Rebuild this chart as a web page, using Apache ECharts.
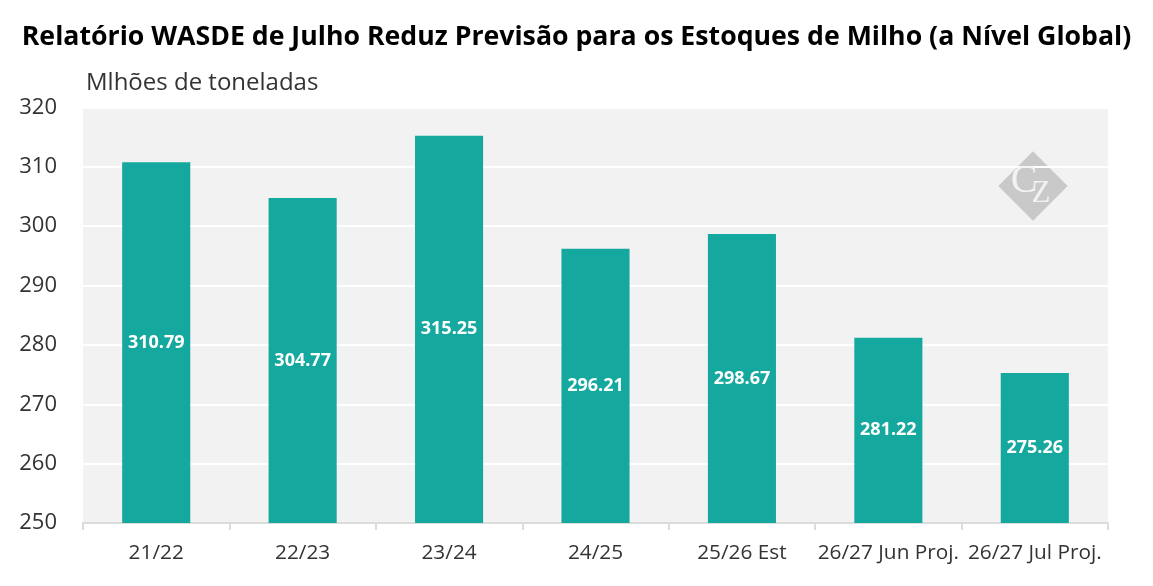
<!DOCTYPE html>
<html lang="pt">
<head>
    <meta charset="UTF-8">
    <title>WASDE Milho</title>
    <script src="https://cdnjs.cloudflare.com/ajax/libs/echarts/6.0.0/echarts.min.js"></script>
    <style>
        html, body { margin: 0; padding: 0; background: #fff; }
        #main { width: 1153px; height: 586px; }
    </style>
</head>
<body>
    <div id="main"></div>
    <script>
        // dados
        const categories = ["21/22", "22/23", "23/24", "24/25", "25/26 Est", "26/27 Jun Proj.", "26/27 Jul Proj."];
        const stocks = [310.79, 304.77, 315.25, 296.21, 298.67, 281.22, 275.26];
        const yTicks = [250, 260, 270, 280, 290, 300, 310, 320];

        const chart = echarts.init(document.getElementById('main'));
        const font = "'Open Sans', 'Noto Sans', sans-serif";

        const option = {
            animation: false,
            textStyle: { fontFamily: font },
            title: {
                text: "Relatório WASDE de Julho Reduz Previsão para os Estoques de Milho (a Nível Global)",
                left: 'center',
                top: 19,
                textStyle: { fontSize: 26.7, fontWeight: 'bold', color: '#000', fontFamily: font }
            },
            grid: { left: 83, right: 45, top: 107.5, bottom: 63, containLabel: false,
                    show: true, backgroundColor: '#f2f2f2', borderWidth: 0 },
            graphic: [
                {
                    type: 'text', left: 86, top: 71,
                    style: { text: "Mlhões de toneladas", fontSize: 24, fill: '#333', fontFamily: font }
                },
                {
                    type: 'rect', x: 1033, y: 186, rotation: Math.PI / 4, z: 0,
                    shape: { x: -24.5, y: -24.5, width: 49, height: 49 },
                    style: { fill: '#c9c9c9' }
                },
                {
                    type: 'text', x: 1024, y: 181, z: 1,
                    style: { text: 'C', fontSize: 40, fill: '#f2f2f2', fontFamily: 'Liberation Serif, serif',
                             align: 'center', verticalAlign: 'middle' }
                },
                {
                    type: 'text', x: 1041, y: 194, z: 1,
                    style: { text: 'Z', fontSize: 31, fill: '#f2f2f2', fontFamily: 'Liberation Serif, serif',
                             align: 'center', verticalAlign: 'middle' }
                }
            ],
            xAxis: {
                type: 'category',
                data: categories,
                axisLine: { lineStyle: { color: '#dcdcdc', width: 2 } },
                axisTick: { show: true, length: 7, lineStyle: { color: '#dcdcdc', width: 2 } },
                axisLabel: { interval: 0, fontSize: 20.8, color: '#333', margin: 20, fontFamily: font }
            },
            yAxis: {
                type: 'value',
                min: yTicks[0],
                max: yTicks[yTicks.length - 1],
                interval: 10,
                axisLine: { show: false },
                axisTick: { show: false },
                axisLabel: { fontSize: 22, color: '#333', margin: 26, fontFamily: font },
                splitLine: { lineStyle: { color: '#ffffff', width: 2 } }
            },
            series: [
                {
                    name: 'Estoques',
                    type: 'bar',
                    data: stocks,
                    barWidth: '46.5%',
                    itemStyle: { color: '#14a89e' },
                    label: {
                        show: true,
                        position: 'inside',
                        color: '#fff',
                        fontSize: 18,
                        fontWeight: 'bold',
                        fontFamily: font,
                        formatter: (p) => p.value.toFixed(2)
                    }
                }
            ]
        };

        chart.setOption(option);
    </script>
</body>
</html>
